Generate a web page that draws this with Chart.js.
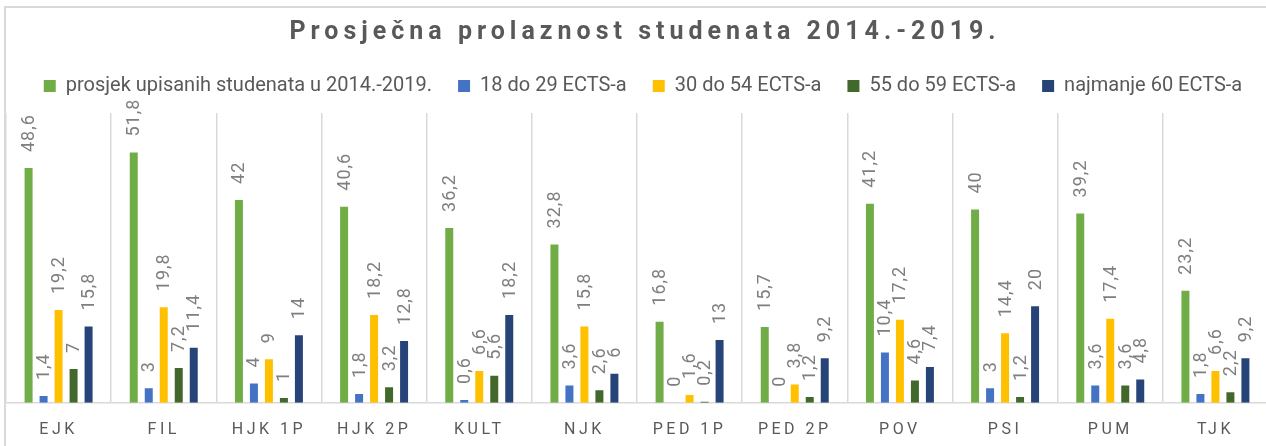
<!DOCTYPE html>
<html>
<head>
<meta charset="utf-8">
<script src="https://cdn.jsdelivr.net/npm/chart.js@4"></script>
<style>
  html, body { margin: 0; padding: 0; background: #fff; overflow: hidden; }
  #frame {
    position: absolute; left: 4px; top: 6px; width: 1300px; height: 480px;
    border-left: 2px solid #d9d9d9; border-top: 2px solid #d9d9d9;
  }
  #wrap { position: absolute; left: 0; top: 0; width: 1272px; height: 465px; }
</style>
</head>
<body>
<div id="frame"></div>
<div id="wrap"><canvas id="chart"></canvas></div>
<script>
const categories = ["EJK", "FIL", "HJK 1P", "HJK 2P", "KULT", "NJK", "PED 1P", "PED 2P", "POV", "PSI", "PUM", "TJK"];
const seriesNames = [
  "prosjek upisanih studenata u 2014.-2019.",
  "18 do 29 ECTS-a",
  "30 do 54 ECTS-a",
  "55 do 59 ECTS-a",
  "najmanje 60 ECTS-a",
];
const enrolled = [48.6, 51.8, 42, 40.6, 36.2, 32.8, 16.8, 15.7, 41.2, 40, 39.2, 23.2];
const ects18to29 = [1.4, 3, 4, 1.8, 0.6, 3.6, 0, 0, 10.4, 3, 3.6, 1.8];
const ects30to54 = [19.2, 19.8, 9, 18.2, 6.6, 15.8, 1.6, 3.8, 17.2, 14.4, 17.4, 6.6];
const ects55to59 = [7, 7.2, 1, 3.2, 5.6, 2.6, 0.2, 1.2, 4.6, 1.2, 3.6, 2.2];
const ects60plus = [15.8, 11.4, 14, 12.8, 18.2, 6, 13, 9.2, 7.4, 20, 4.8, 9.2];
const seriesColors = ["#70ad47", "#4472c4", "#ffc000", "#43682b", "#264478"];

const textGray = "#595959";
const fmt = (v) => String(v).replace(".", ",");

// rotated value labels above each bar
const barLabels = {
  id: "barLabels",
  afterDatasetsDraw(chart) {
    const ctx = chart.ctx;
    ctx.save();
    ctx.font = "18px Roboto";
    ctx.fillStyle = "#7f7f7f";
    ctx.letterSpacing = "1px";
    ctx.textAlign = "left";
    ctx.textBaseline = "middle";
    chart.data.datasets.forEach((ds, i) => {
      chart.getDatasetMeta(i).data.forEach((bar, j) => {
        ctx.save();
        ctx.translate(bar.x + 1, bar.y - 16);
        ctx.rotate(-Math.PI / 2);
        ctx.fillText(fmt(ds.data[j]), 0, 0);
        ctx.restore();
      });
    });
    ctx.restore();
  },
};

// letter spacing for the title and category labels, extra room under the legend
const tweaks = {
  id: "tweaks",
  beforeLayout(chart) {
    const lg = chart.legend;
    if (lg && !lg._tweaked) {
      const fit = lg.fit.bind(lg);
      lg.fit = () => { fit(); lg.height += 7; };
      const draw = lg.draw.bind(lg);
      lg.draw = () => {
        chart.ctx.save();
        chart.ctx.translate(6, 0);
        draw();
        chart.ctx.restore();
      };
      lg._tweaked = true;
    }
  },
  afterLayout(chart) {
    const x = chart.scales.x;
    if (x && !x._spaced) {
      const orig = x.drawLabels.bind(x);
      x.drawLabels = (area) => {
        chart.ctx.save();
        chart.ctx.letterSpacing = "3.5px";
        orig(area);
        chart.ctx.restore();
      };
      x._spaced = true;
    }
    const t = chart.titleBlock;
    if (t && !t._spaced) {
      const origT = t.draw.bind(t);
      t.draw = () => {
        chart.ctx.save();
        chart.ctx.letterSpacing = "5px";
        chart.ctx.translate(8, 0);
        origT();
        chart.ctx.restore();
      };
      t._spaced = true;
    }
  },
};

const values = [enrolled, ects18to29, ects30to54, ects55to59, ects60plus];

new Chart(document.getElementById("chart"), {
  type: "bar",
  data: {
    labels: categories,
    datasets: values.map((data, i) => ({
      label: seriesNames[i],
      data,
      backgroundColor: seriesColors[i],
      borderWidth: 0,
      barPercentage: 0.533,
      categoryPercentage: 0.713,
    })),
  },
  options: {
    responsive: true,
    maintainAspectRatio: false,
    animation: false,
    layout: { padding: { left: 6, right: 4, top: 0, bottom: 7 } },
    plugins: {
      title: {
        display: true,
        text: "Prosječna prolaznost studenata 2014.-2019.",
        color: textGray,
        font: { family: "Roboto", size: 25, weight: "bold" },
        padding: { top: 18, bottom: 2 },
      },
      legend: {
        display: true,
        position: "top",
        labels: {
          color: textGray,
          font: { family: "Roboto", size: 20 },
          boxWidth: 12,
          boxHeight: 12,
          padding: 26,
        },
      },
      tooltip: { enabled: false },
    },
    scales: {
      x: {
        grid: { color: "#d9d9d9", lineWidth: 1.5, drawTicks: false, offset: true },
        border: { display: true, color: "#d9d9d9", width: 1.5 },
        ticks: {
          color: textGray,
          font: { family: "Roboto", size: 16 },
          padding: 18,
          maxRotation: 0,
        },
      },
      y: { display: false, min: 0, max: 60 },
    },
  },
  plugins: [barLabels, tweaks],
});
</script>
</body>
</html>
